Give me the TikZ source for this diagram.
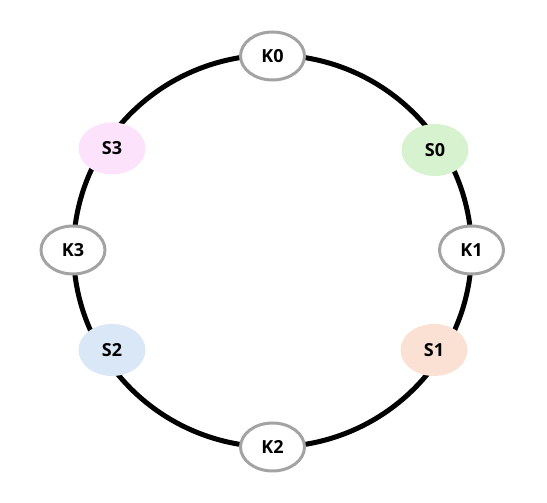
\documentclass[tikz,border=0pt]{standalone}
\usepackage{fontspec}
\setmainfont{Open Sans}
\usetikzlibrary{shapes.geometric}
\definecolor{kborder}{HTML}{A3A3A3}
\definecolor{sgreen}{HTML}{D6F2CF}
\definecolor{spink}{HTML}{FCE2FB}
\definecolor{sblue}{HTML}{DAE7F6}
\definecolor{speach}{HTML}{FBE1D3}
\tikzset{
  knode/.style={ellipse, draw=kborder, line width=3pt, fill=white, minimum width=64pt, minimum height=48pt, inner sep=0pt, font=\bfseries\fontsize{18}{21}\selectfont},
  snode/.style={ellipse, minimum width=67pt, minimum height=52pt, inner sep=0pt, font=\bfseries\fontsize{18}{21}\selectfont},
  ring/.style={line width=5pt, draw=black}
}
\begin{document}
\begin{tikzpicture}[x=1pt,y=1pt]
\useasboundingbox (0,0) rectangle (547,503);
\coordinate (ctr) at (272.5,252);
\draw[ring] (ctr) ellipse [x radius=199, y radius=196];
\node[knode] (k0) at (272.5,447) {K0};
\node[knode] (k1) at (471.5,253) {K1};
\node[knode] (k2) at (272.5,56) {K2};
\node[knode] (k3) at (73,253) {K3};
\node[snode, fill=sgreen] (s0) at (435,353) {S0};
\node[snode, fill=speach] (s1) at (434,153) {S1};
\node[snode, fill=sblue] (s2) at (112,153) {S2};
\node[snode, fill=spink] (s3) at (112,354.5) {S3};
\end{tikzpicture}
\end{document}
